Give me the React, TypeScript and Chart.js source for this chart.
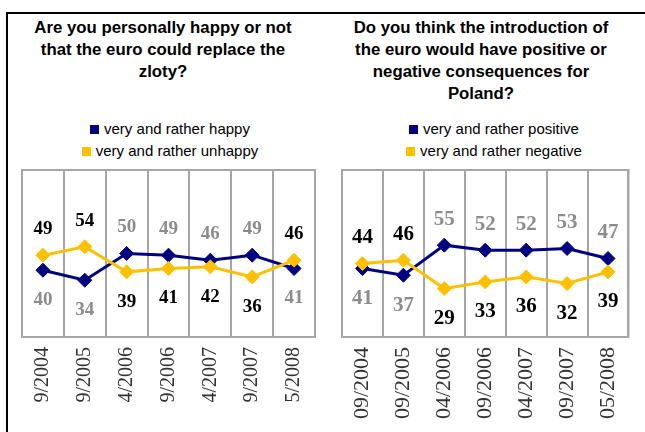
import React, { useEffect, useRef } from "react";
import { Chart, registerables } from "chart.js";

Chart.register(...registerables);

const leftCategories = ["9/2004", "9/2005", "4/2006", "9/2006", "4/2007", "9/2007", "5/2008"];
const rightCategories = ["09/2004", "09/2005", "04/2006", "09/2006", "04/2007", "09/2007", "05/2008"];
const happy = [40, 34, 50, 49, 46, 49, 41];
const unhappy = [49, 54, 39, 41, 42, 36, 46];
const positive = [41, 37, 55, 52, 52, 53, 47];
const negative = [44, 46, 29, 33, 36, 32, 39];

const leftTitle = ["Are you personally happy or not", "that the euro could replace the", "zloty?"];
const rightTitle = ["Do you think the introduction of", "the euro would have positive or", "negative consequences for", "Poland?"];
const leftLegend = ["very and rather happy", "very and rather unhappy"];
const rightLegend = ["very and rather positive", "very and rather negative"];

const NAVY = "#000080";
const GOLD = "#FFC000";
const GRID = "#a6a6a6";
const LABEL_GREY = "#8c8c8c";

const framePlugin = {
  id: "frame",
  beforeDatasetsDraw(chart: any) {
    const { ctx, chartArea } = chart;
    ctx.save();
    ctx.strokeStyle = GRID;
    ctx.lineWidth = 2;
    ctx.strokeRect(chartArea.left, chartArea.top, chartArea.right - chartArea.left, chartArea.bottom - chartArea.top);
    ctx.restore();
  },
};

const valueLabelPlugin = {
  id: "valueLabels",
  afterDatasetsDraw(chart: any, _args: any, opts: any) {
    const { ctx } = chart;
    const ds = chart.data.datasets;
    if (ds.length < 2) return;
    const m0 = chart.getDatasetMeta(0);
    const m1 = chart.getDatasetMeta(1);
    ctx.save();
    ctx.font = `bold ${opts.size}px "Liberation Serif", "Times New Roman", serif`;
    ctx.textAlign = "center";
    ctx.textBaseline = "middle";
    for (let i = 0; i < ds[0].data.length; i++) {
      const v0 = ds[0].data[i];
      const v1 = ds[1].data[i];
      const pairs = [
        { v: v0, p: m0.data[i], color: ds[0].labelColor, above: v0 >= v1 },
        { v: v1, p: m1.data[i], color: ds[1].labelColor, above: v1 > v0 },
      ];
      for (const it of pairs) {
        ctx.fillStyle = it.color;
        const y = it.p.y + (it.above ? opts.above : opts.below);
        ctx.fillText(String(it.v), it.p.x, y);
      }
    }
    ctx.restore();
  },
};

function LineChart(props: {
  labels: string[];
  navy: number[];
  gold: number[];
  navyName: string;
  goldName: string;
  tickSize: number;
  labelSize: number;
  radius: number;
  padding: { left: number; right: number; top: number; bottom: number };
  width: number;
  height: number;
  style: React.CSSProperties;
}) {
  const ref = useRef<HTMLCanvasElement | null>(null);
  useEffect(() => {
    if (!ref.current) return;
    const chart = new Chart(ref.current, {
      type: "line",
      data: {
        labels: props.labels,
        datasets: [
          {
            label: props.navyName,
            data: props.navy,
            borderColor: NAVY,
            backgroundColor: NAVY,
            borderWidth: 3,
            pointStyle: "rectRot",
            pointRadius: props.radius,
            pointBorderWidth: 1,
            pointBackgroundColor: NAVY,
            pointBorderColor: NAVY,
            order: 1,
            labelColor: LABEL_GREY,
          } as any,
          {
            label: props.goldName,
            data: props.gold,
            borderColor: GOLD,
            backgroundColor: GOLD,
            borderWidth: 3,
            pointStyle: "rectRot",
            pointRadius: props.radius,
            pointBorderWidth: 1,
            pointBackgroundColor: GOLD,
            pointBorderColor: GOLD,
            order: 0,
            labelColor: "#000000",
          } as any,
        ],
      },
      options: {
        responsive: false,
        animation: false,
        devicePixelRatio: 1,
        layout: { padding: props.padding },
        plugins: {
          legend: { display: false },
          title: { display: false },
          tooltip: { enabled: false },
          valueLabels: { size: props.labelSize, above: -26, below: 30 },
        } as any,
        scales: {
          x: {
            type: "category",
            offset: true,
            grid: { offset: true, color: GRID, lineWidth: 2, drawTicks: false },
            border: { display: false },
            ticks: {
              minRotation: 90,
              maxRotation: 90,
              padding: 10,
              color: "#333333",
              font: { family: '"Liberation Serif", "Times New Roman", serif', size: props.tickSize },
            },
            afterFit: (scale: any) => {
              scale.height = 95;
            },
          },
          y: { display: false, min: 0, max: 100 },
        },
      },
      plugins: [framePlugin, valueLabelPlugin],
    });
    return () => chart.destroy();
  }, []);
  return <canvas ref={ref} width={props.width} height={props.height} style={{ position: "absolute", display: "block", ...props.style }} />;
}

const titleStyle: React.CSSProperties = {
  position: "absolute",
  textAlign: "center",
  fontFamily: '"Liberation Sans", Arial, sans-serif',
  fontWeight: "bold",
  fontSize: "16.8px",
  lineHeight: "22px",
  color: "#000",
  whiteSpace: "nowrap",
};

const legendStyle: React.CSSProperties = {
  position: "absolute",
  textAlign: "center",
  fontFamily: '"Liberation Sans", Arial, sans-serif',
  fontSize: "15px",
  lineHeight: "22px",
  color: "#000",
  whiteSpace: "nowrap",
};

function Legend(props: { items: string[]; colors: string[]; style: React.CSSProperties }) {
  return (
    <div style={{ ...legendStyle, ...props.style }}>
      {props.items.map((t, i) => (
        <div key={t}>
          <span
            style={{
              display: "inline-block",
              width: 9,
              height: 9,
              background: props.colors[i],
              marginRight: 5,
              verticalAlign: "0px",
            }}
          />
          {t}
        </div>
      ))}
    </div>
  );
}

export default function App() {
  return (
    <div style={{ position: "absolute", left: 0, top: 0, width: 645, height: 432, overflow: "hidden", background: "#fff" }}>
      <div
        style={{
          position: "absolute",
          left: 6,
          top: 12,
          width: 700,
          height: 500,
          borderLeft: "2.5px solid #000",
          borderTop: "2.5px solid #000",
        }}
      />
      <div style={{ ...titleStyle, left: 13, width: 300, top: 17 }}>
        {leftTitle.map((l) => (
          <div key={l}>{l}</div>
        ))}
      </div>
      <div style={{ ...titleStyle, left: 331, width: 300, top: 17 }}>
        {rightTitle.map((l) => (
          <div key={l}>{l}</div>
        ))}
      </div>
      <Legend items={leftLegend} colors={[NAVY, GOLD]} style={{ left: 20, width: 300, top: 118 }} />
      <Legend items={rightLegend} colors={[NAVY, GOLD]} style={{ left: 344, width: 300, top: 118 }} />
      <LineChart
        labels={leftCategories}
        navy={happy}
        gold={unhappy}
        navyName={leftLegend[0]}
        goldName={leftLegend[1]}
        tickSize={20}
        labelSize={19}
        radius={7}
        padding={{ left: 12, right: 15, top: 10, bottom: 0 }}
        width={320}
        height={272}
        style={{ left: 10, top: 160 }}
      />
      <LineChart
        labels={rightCategories}
        navy={positive}
        gold={negative}
        navyName={rightLegend[0]}
        goldName={rightLegend[1]}
        tickSize={22}
        labelSize={21}
        radius={7}
        padding={{ left: 12, right: 3, top: 10, bottom: 0 }}
        width={315}
        height={272}
        style={{ left: 330, top: 160 }}
      />
    </div>
  );
}
